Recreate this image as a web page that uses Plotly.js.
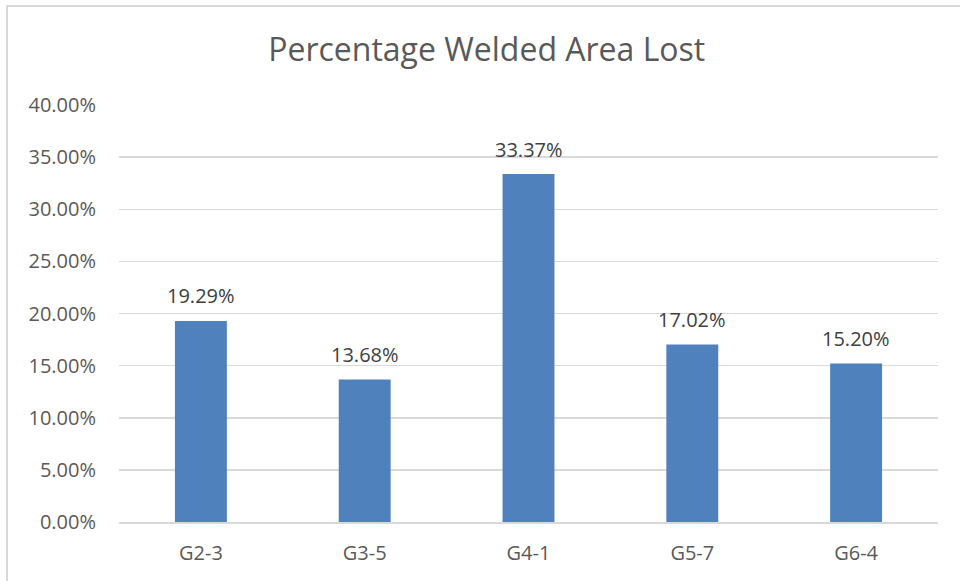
<!DOCTYPE html>
<html><head><meta charset="utf-8">
<script src="https://cdn.plot.ly/plotly-3.0.1.min.js"></script>
<style>html,body{margin:0;padding:0;background:#fff;overflow:hidden}
#frame{position:absolute;left:6px;top:5px;width:1000px;height:1000px;border:2px solid #d9d9d9;pointer-events:none}
</style></head>
<body><div id="chart" style="width:960px;height:581px"></div><div id="frame"></div>
<script>
const categories = ["G2-3","G3-5","G4-1","G5-7","G6-4"];
const values = [0.1929,0.1368,0.3337,0.1702,0.1520];
const labels = ["19.29%","13.68%","33.37%","17.02%","15.20%"];
const tickVals = [0,0.05,0.10,0.15,0.20,0.25,0.30,0.35,0.40];
const font = "Open Sans, Liberation Sans, sans-serif";
const annotations = categories.map((c,i)=>({
  x:c, y:values[i], xref:'x', yref:'y', text:labels[i], showarrow:false,
  yanchor:'middle', yshift:25, font:{family:font,size:20,color:'#404040'}
}));
Plotly.newPlot('chart',[{
  type:'bar', x:categories, y:values,
  marker:{color:'#4F81BD'}, hoverinfo:'none'
}],{
  width:960,height:581,
  margin:{l:119,r:22,t:105,b:59},
  paper_bgcolor:'#fff',plot_bgcolor:'#fff',
  bargap:0.683,
  annotations:annotations,
  title:{text:'Percentage Welded Area Lost',font:{family:font,size:32,color:'#595959'},x:0.507,xref:'container',xanchor:'center',y:0.914,yref:'container',yanchor:'middle'},
  xaxis:{showgrid:false,showline:true,linecolor:'#d9d9d9',linewidth:1.5,ticks:'',tickfont:{family:font,size:20,color:'#595959'},ticklabelstandoff:12,zeroline:false},
  yaxis:{range:[0,0.4],tickvals:tickVals,tickformat:'.2%',gridcolor:'#d9d9d9',gridwidth:1.5,zeroline:false,showline:false,ticks:'',tickfont:{family:font,size:20,color:'#595959'},ticklabelstandoff:22},
  showlegend:false
},{staticPlot:true});
</script></body></html>
